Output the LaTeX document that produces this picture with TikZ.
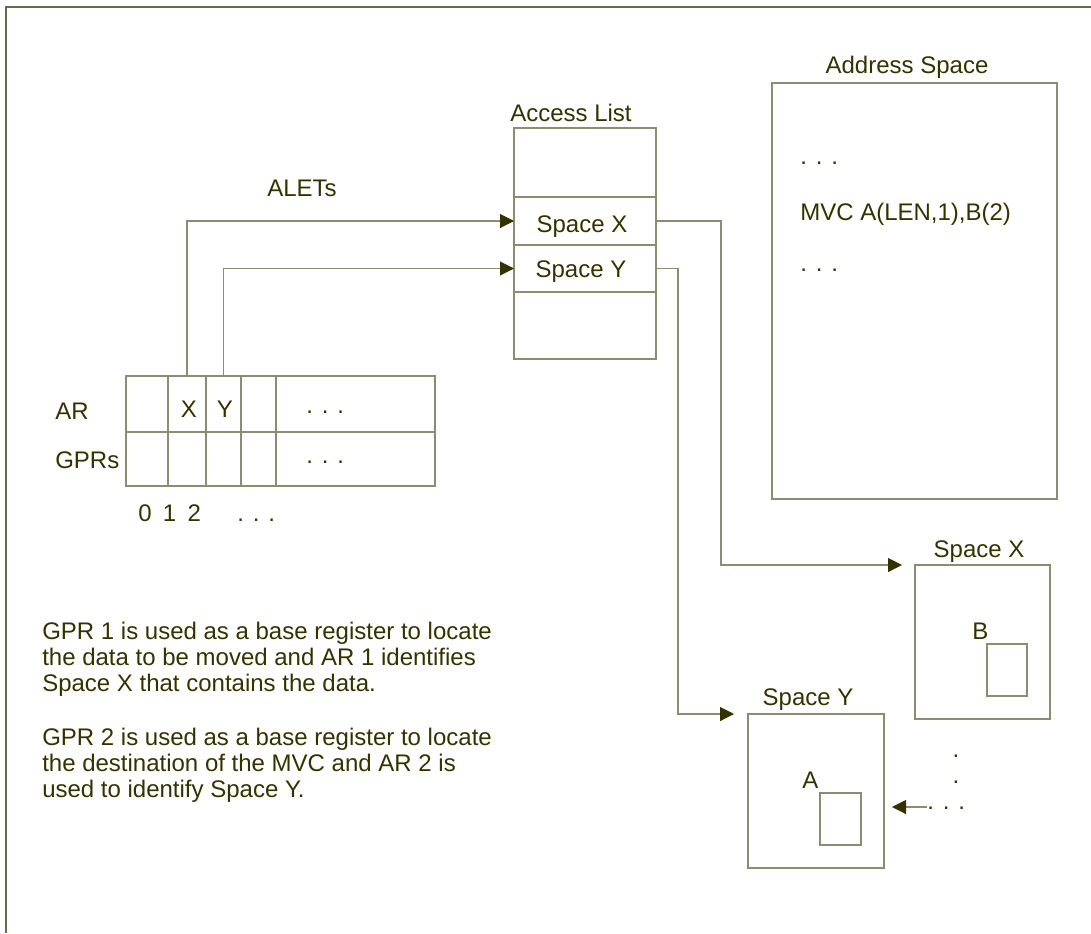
\documentclass[tikz,border=0pt]{standalone}
\usepackage{fontspec}
\setmainfont{Liberation Sans}
\usepackage{tikz}
\usetikzlibrary{positioning,arrows.meta,calc}
\usepackage{xcolor}
\definecolor{linegray}{RGB}{140,140,112}
\definecolor{frameolive}{RGB}{105,105,75}
\definecolor{inkolive}{RGB}{51,51,0}

\begin{document}
\begin{tikzpicture}[x=0.75pt, y=-0.75pt,
    >={Triangle[length=10.5pt, width=10.5pt, color=inkolive, fill=inkolive]},
    every node/.style={text=inkolive, inner sep=0pt, font=\fontsize{18}{19.5}\selectfont},
    box/.style={draw=linegray, line width=0.8pt, outer sep=0pt},
    link/.style={draw=linegray, line width=0.8pt, ->}]
    \useasboundingbox (0,0) rectangle (1091,933);
    % --- Frame (top and left edges only) ---
    \draw[frameolive, line width=1pt] (6,933) -- (6,7) -- (1091,7);

    % --- Access list ---
    \node[box, minimum width=106.5pt, minimum height=51.75pt] (al0) at (585,162.5) {};
    \node[box, minimum width=106.5pt, minimum height=36pt, below=0pt of al0] (alx) {};
    \node[box, minimum width=106.5pt, minimum height=35.25pt, below=0pt of alx] (aly) {};
    \node[box, minimum width=106.5pt, minimum height=50.25pt, below=0pt of aly] (al3) {};
    \node[anchor=base] (altitle) at (571,121) {Access List};
    \node[anchor=base] (alxtext) at (582,232) {Space X};
    \node[anchor=base] (alytext) at (581,277) {Space Y};

    % --- AR / GPR register table ---
    \foreach \c/\xl/\xr in {0/126/168, 1/168/206, 2/206/241, 3/241/276, 4/276/435} {
        \node[box, anchor=north west, minimum width={(\xr-\xl)*0.75pt}, minimum height=42pt] (ar\c) at (\xl,376) {};
        \node[box, anchor=north west, minimum width={(\xr-\xl)*0.75pt}, minimum height=40.5pt] (gpr\c) at (\xl,432) {};
    }
    \node[anchor=base] (arx) at (189,417) {X};
    \node[anchor=base] (ary) at (225,417) {Y};
    \node[anchor=base west] (ardots) at (306,413) {. . .};
    \node[anchor=base west] (gprdots) at (306,463) {. . .};
    \node[anchor=base west] (arlabel) at (55,419) {AR};
    \node[anchor=base west] (gprlabel) at (55,468) {GPRs};
    \node[anchor=base west] (regnums) at (138,521) {0\hspace{8.5pt}1\hspace{8.5pt}2};
    \node[anchor=base west] (regdots) at (237,521) {. . .};

    % ALETs into the access list
    \node[anchor=base] (alets) at (302,196) {ALETs};
    \draw[link] (ar1.north) |- (alx.west);
    \draw[link] (ar2.north) |- (aly.west);

    % --- Address space ---
    \node[box, minimum width=213.75pt, minimum height=312pt] (aspace) at (914.5,291) {};
    \node[anchor=base] (astitle) at (907,73) {Address Space};
    \node[anchor=base west] (asdots1) at (800,164) {. . .};
    \node[anchor=base west] (mvc) at (800,220) {MVC A(LEN,1),B(2)};
    \node[anchor=base west] (asdots2) at (800,271) {. . .};

    % --- Space X ---
    \node[box, minimum width=101.25pt, minimum height=115.5pt] (spx) at (982.5,642) {};
    \node[anchor=base] (spxtitle) at (979,557) {Space X};
    \node[box, minimum width=30pt, minimum height=39pt] (datab) at (1007,670) {};
    \node[anchor=base west] (blabel) at (972,639) {B};

    % --- Space Y ---
    \node[box, minimum width=102pt, minimum height=115.5pt] (spy) at (816,791) {};
    \node[anchor=base] (spytitle) at (808,705) {Space Y};
    \node[box, minimum width=30.75pt, minimum height=39pt] (dataa) at (840.5,819) {};
    \node[anchor=base west] (alabel) at (802,788) {A};

    % Access list entries to the spaces
    \draw[link] (alx.east) -- ++(65,0) |- ([xshift=-9.75pt]spx.north west);
    \draw[link] (aly.east) -- ++(22,0) |- ([xshift=-10.5pt]spy.north west);

    % more spaces
    \coordinate (more) at (927,807);
    \draw[link] (more) -- ($(spy.east |- more)+(8,0)$);
    \node[anchor=base west] (moredots) at (927,809) {. . .};
    \node[anchor=base] (vdot1) at (956,757) {.};
    \node[anchor=base] (vdot2) at (956,783) {.};

    % --- Explanation ---
    \node[anchor=north west, align=left] (note1) at (42,622)
        {GPR 1 is used as a base register to locate\\the data to be moved and AR 1 identifies\\Space X that contains the data.};
    \node[anchor=north west, align=left] (note2) at (42,728)
        {GPR 2 is used as a base register to locate\\the destination of the MVC and AR 2 is\\used to identify Space Y.};
\end{tikzpicture}
\end{document}
